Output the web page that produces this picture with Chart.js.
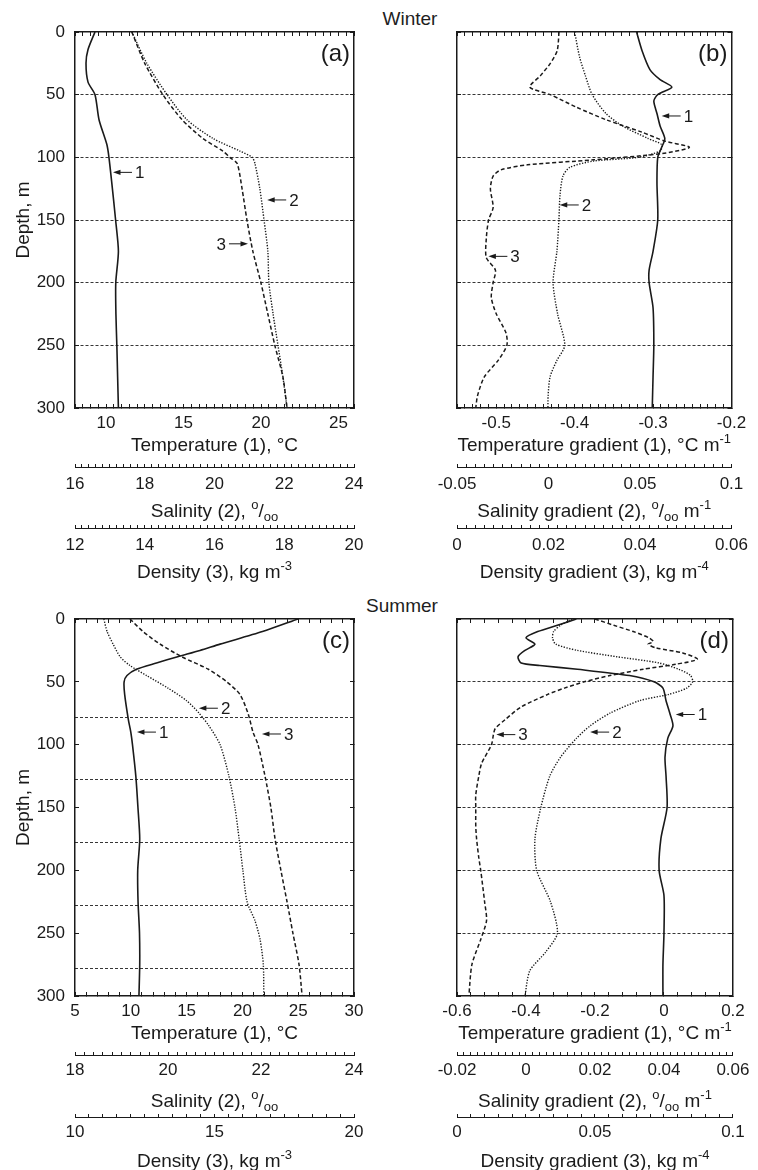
<!DOCTYPE html>
<html>
<head>
<meta charset="utf-8">
<script src="https://cdn.jsdelivr.net/npm/chart.js@4.4.0/dist/chart.umd.min.js"></script>
<style>
  body { margin: 0; background: #fff; width: 758px; height: 1170px; position: relative; overflow: hidden;
         font-family: "Liberation Sans", Arial, Helvetica, sans-serif; color: #1e1e1e; }
  .panel { position: absolute; }
  .season { position: absolute; width: 100px; text-align: center; font-size: 19px; line-height: 22px; }
</style>
</head>
<body>
<div class="season" style="left:360px; top:8px;">Winter</div>
<div class="season" style="left:352px; top:595px;">Summer</div>
<canvas id="pa" class="panel" width="379" height="590" style="left:0; top:0;"></canvas>
<canvas id="pb" class="panel" width="379" height="590" style="left:379px; top:0;"></canvas>
<canvas id="pc" class="panel" width="379" height="580" style="left:0; top:590px;"></canvas>
<canvas id="pd" class="panel" width="379" height="580" style="left:379px; top:590px;"></canvas>
<script>
const FONT = '"Liberation Sans", Arial, Helvetica, sans-serif';
const INK = '#1a1a1a';
const GRID = '#363636';

// ---- winter, profiles (a) ----
const depthA1 = [0, 14, 25, 40, 50, 70, 90, 100, 120, 150, 175, 200, 225, 250, 275, 300];
const tempA = [9.29, 8.84, 8.71, 8.84, 9.29, 9.55, 10.06, 10.19, 10.37, 10.62, 10.8, 10.63, 10.64, 10.7, 10.75, 10.8];
const depthA2 = [0, 25, 50, 70, 85, 95, 100, 105, 125, 150, 175, 200, 225, 250, 275, 300];
const salA = [17.63, 18.06, 18.64, 19.21, 19.96, 20.73, 21.08, 21.16, 21.3, 21.42, 21.53, 21.56, 21.68, 21.82, 21.96, 22.08];
const densA = [13.63, 14.0, 14.52, 15.07, 15.67, 16.24, 16.44, 16.65, 16.79, 16.93, 17.1, 17.33, 17.53, 17.73, 17.96, 18.08];

// ---- winter, gradients (b) ----
const depthB1 = [0, 15, 30, 38, 44, 50, 55, 65, 75, 85, 92, 100, 120, 150, 175, 190, 200, 220, 250, 275, 300];
const tgradB = [-0.321, -0.314, -0.304, -0.291, -0.276, -0.294, -0.299, -0.295, -0.291, -0.285, -0.289, -0.294, -0.295, -0.294, -0.3, -0.305, -0.305, -0.3, -0.299, -0.3, -0.301];
const depthB2 = [0, 20, 35, 50, 65, 75, 85, 90, 95, 100, 103, 108, 115, 130, 150, 175, 200, 225, 250, 262, 275, 290, 300];
const sgradB = [0.0143, 0.017, 0.0202, 0.0239, 0.0314, 0.0405, 0.0545, 0.062, 0.0609, 0.0491, 0.0245, 0.0116, 0.0079, 0.0063, 0.0057, 0.0046, 0.0025, 0.005, 0.0089, 0.0046, 0.0009, -0.0002, -0.0003];
const depthB3 = [0, 15, 25, 35, 44, 50, 60, 70, 80, 87, 92, 97, 102, 106, 110, 115, 125, 140, 150, 165, 180, 190, 200, 212, 225, 240, 250, 262, 275, 290, 300];
const dgradB = [0.0223, 0.0219, 0.0204, 0.0182, 0.0159, 0.0204, 0.0261, 0.0326, 0.0405, 0.0454, 0.0508, 0.0448, 0.0298, 0.0154, 0.0096, 0.0079, 0.0073, 0.0079, 0.0069, 0.0064, 0.0064, 0.0084, 0.0079, 0.0075, 0.0086, 0.0107, 0.0109, 0.009, 0.006, 0.0045, 0.0041];

// ---- summer, profiles (c) ----
const depthC1 = [0, 10, 20, 25, 30, 35, 40, 45, 50, 60, 80, 90, 100, 125, 150, 175, 200, 225, 250, 275, 300];
const tempC = [24.98, 21.8, 18.0, 16.2, 14.2, 12.3, 10.5, 9.66, 9.4, 9.45, 9.78, 10.0, 10.15, 10.45, 10.64, 10.8, 10.62, 10.65, 10.78, 10.8, 10.73];
const depthC2 = [0, 10, 20, 30, 37, 45, 55, 65, 75, 85, 100, 125, 150, 175, 200, 225, 240, 255, 275, 300];
const salC = [18.62, 18.69, 18.82, 18.97, 19.18, 19.54, 20.0, 20.4, 20.67, 20.88, 21.12, 21.31, 21.44, 21.53, 21.61, 21.7, 21.87, 21.98, 22.05, 22.06];
const depthC3 = [0, 10, 20, 30, 40, 50, 60, 75, 90, 100, 125, 150, 175, 200, 225, 250, 275, 300];
const densC = [11.97, 12.44, 13.05, 13.82, 14.78, 15.44, 15.91, 16.2, 16.38, 16.56, 16.81, 17.02, 17.17, 17.38, 17.6, 17.81, 18.03, 18.14];
const gridDepthsC = [78, 128, 178, 228, 278];

// ---- summer, gradients (d) ----
const depthD1 = [0, 5, 10, 15, 20, 25, 30, 35, 37, 40, 45, 50, 55, 65, 75, 85, 95, 110, 125, 150, 175, 200, 220, 250, 275, 300];
const tgradD = [-0.254, -0.309, -0.366, -0.4, -0.374, -0.403, -0.423, -0.414, -0.36, -0.251, -0.1, -0.029, -0.003, 0.006, 0.017, 0.026, 0.011, 0.003, 0.006, 0.009, -0.009, -0.014, 0, 0, -0.003, -0.003];
const depthD2 = [0, 5, 10, 15, 20, 25, 30, 35, 40, 45, 50, 55, 60, 65, 75, 85, 95, 110, 125, 150, 175, 200, 225, 250, 265, 280, 300];
const sgradD = [0.0134, 0.01, 0.008, 0.0077, 0.0086, 0.0149, 0.0263, 0.0386, 0.0443, 0.0477, 0.0483, 0.0466, 0.0414, 0.0329, 0.0243, 0.0186, 0.0146, 0.01, 0.0069, 0.0043, 0.0026, 0.0031, 0.0071, 0.0091, 0.0057, 0.0011, -0.0003];
const depthD3 = [0, 5, 10, 15, 18, 20, 23, 27, 32, 36, 40, 45, 50, 55, 60, 70, 80, 87, 92, 100, 115, 125, 140, 150, 165, 175, 190, 200, 225, 240, 255, 275, 300];
const dgradD = [0.05, 0.0568, 0.0639, 0.0696, 0.0711, 0.0693, 0.0721, 0.0818, 0.0871, 0.0793, 0.0675, 0.0554, 0.0461, 0.0389, 0.0329, 0.0232, 0.0175, 0.0139, 0.0132, 0.0125, 0.0089, 0.0079, 0.0068, 0.0068, 0.0068, 0.0071, 0.0079, 0.0086, 0.01, 0.0107, 0.0086, 0.0054, 0.0043];

// numbered arrows, in units of the first x axis and depth
const arrowsA = [{ label: '1', x: 10.45, depth: 112, dir: 'left' }, { label: '2', x: 20.4, depth: 134, dir: 'left' }, { label: '3', x: 19.16, depth: 169, dir: 'right' }];
const arrowsB = [{ label: '1', x: -0.289, depth: 67, dir: 'left' }, { label: '2', x: -0.419, depth: 138, dir: 'left' }, { label: '3', x: -0.51, depth: 179, dir: 'left' }];
const arrowsC = [{ label: '1', x: 10.55, depth: 90, dir: 'left' }, { label: '2', x: 16.1, depth: 71, dir: 'left' }, { label: '3', x: 21.75, depth: 91.5, dir: 'left' }];
const arrowsD = [{ label: '1', x: 0.034, depth: 76, dir: 'left' }, { label: '2', x: -0.214, depth: 90, dir: 'left' }, { label: '3', x: -0.486, depth: 92, dir: 'left' }];

// axis ranges: min, max, minor step, labelled step
const tempRangeA = [8, 26, 0.5, 5], salRangeA = [16, 24, 0.2, 2], densRangeA = [12, 20, 0.2, 2];
const tgradRangeB = [-0.55, -0.2, 0.01, 0.1], sgradRangeB = [-0.05, 0.1, 0.005, 0.05], dgradRangeB = [0, 0.06, 0.002, 0.02];
const tempRangeC = [5, 30, 1, 5], salRangeC = [18, 24, 0.2, 2], densRangeC = [10, 20, 0.5, 5];
const tgradRangeD = [-0.6, 0.2, 0.04, 0.2], sgradRangeD = [-0.02, 0.06, 0.002, 0.02], dgradRangeD = [0, 0.1, 0.005, 0.05];

const profTitles = [
  [['Temperature (1), \u00B0C', '']],
  [['Salinity (2), ', ''], ['o', 'sup'], ['/', ''], ['oo', 'sub']],
  [['Density (3), kg m', ''], ['-3', 'sup']]
];
const gradTitles = [
  [['Temperature gradient (1), \u00B0C m', ''], ['-1', 'sup']],
  [['Salinity gradient (2), ', ''], ['o', 'sup'], ['/', ''], ['oo', 'sub'], [' m', ''], ['-1', 'sup']],
  [['Density gradient (3), kg m', ''], ['-4', 'sup']]
];

Chart.defaults.font.family = FONT;
Chart.defaults.color = INK;

function isMultiple(v, m) {
  return Math.abs(v / m - Math.round(v / m)) < 1e-6;
}

function fmt(v) {
  return String(parseFloat(v.toFixed(4)));
}

function line(depths, values, axis, dash, width) {
  return {
    data: depths.map((d, i) => ({ x: values[i], y: d })),
    xAxisID: axis, yAxisID: 'y',
    borderColor: INK, borderWidth: width, borderDash: dash,
    pointRadius: 0, tension: 0.25, fill: false
  };
}

function hAxis(r, o) {
  return {
    type: 'linear', position: o.pos || 'bottom', weight: o.weight || 0,
    min: r[0], max: r[1],
    grid: { drawOnChartArea: false, tickLength: o.tick, tickColor: INK, tickWidth: 1 },
    border: { display: true, color: INK, width: o.bw },
    ticks: {
      display: !o.hide, stepSize: r[2], autoSkip: false, maxRotation: 0, minRotation: 0,
      padding: o.pad || 0, font: { size: 17 }, color: INK,
      callback: v => isMultiple(v, r[3]) ? fmt(v) : ''
    },
    afterFit: s => { s.height = o.h; }
  };
}

function vAxis(o) {
  return {
    type: 'linear', reverse: true, min: 0, max: 300, position: o.pos || 'left', weight: o.weight || 0,
    grid: {
      drawOnChartArea: !!o.grid, drawTicks: o.tick !== 0, tickLength: o.tick, tickColor: INK, lineWidth: 1,
      color: c => (c.tick && (c.tick.value <= 0 || c.tick.value >= 300)) ? 'rgba(0,0,0,0)' : GRID
    },
    border: { display: o.bw > 0, color: INK, width: o.bw || 1, dash: [3, 2] },
    ticks: { display: !!o.labels, stepSize: 50, padding: 14, font: { size: 17 }, color: INK },
    title: { display: !!o.labels, text: 'Depth, m', font: { size: 19 }, color: INK, padding: { top: 12, bottom: 0 } },
    afterFit: s => { s.width = o.w; }
  };
}

function drawRich(c, parts, cx, cy) {
  const big = '19px ' + FONT, small = '13px ' + FONT;
  let w = 0;
  parts.forEach(p => { c.font = p[1] ? small : big; w += c.measureText(p[0]).width; });
  let x = cx - w / 2;
  const base = cy + 7;
  c.textAlign = 'left';
  c.textBaseline = 'alphabetic';
  parts.forEach(p => {
    c.font = p[1] ? small : big;
    const dy = p[1] === 'sup' ? -8 : p[1] === 'sub' ? 4 : 0;
    c.fillText(p[0], x, base + dy);
    x += c.measureText(p[0]).width;
  });
}

function drawArrow(c, x, y, dir, label) {
  const s = dir === 'left' ? 1 : -1;
  c.lineWidth = 1;
  c.beginPath();
  c.moveTo(x + s * 6, y);
  c.lineTo(x + s * 19, y);
  c.stroke();
  c.beginPath();
  c.moveTo(x, y);
  c.lineTo(x + s * 7.5, y - 2.6);
  c.lineTo(x + s * 7.5, y + 2.6);
  c.closePath();
  c.fill();
  c.font = '17px ' + FONT;
  c.textBaseline = 'middle';
  c.textAlign = s > 0 ? 'left' : 'right';
  c.fillText(label, x + s * 22, y + 1);
}

function overlay(cfg) {
  return {
    id: 'overlay',
    afterDraw(chart) {
      const c = chart.ctx, area = chart.chartArea;
      c.save();
      c.fillStyle = INK;
      c.strokeStyle = INK;
      ['x', 'xs', 'xd'].forEach((id, i) => {
        const s = chart.scales[id];
        drawRich(c, cfg.titles[i], (s.left + s.right) / 2, s.top + cfg.titleDy[i]);
      });
      c.font = '24px ' + FONT;
      c.textAlign = 'right';
      c.textBaseline = 'middle';
      c.fillText(cfg.letter, area.right - 4, area.top + 22);
      cfg.arrows.forEach(a => {
        drawArrow(c, chart.scales.x.getPixelForValue(a.x), chart.scales.y.getPixelForValue(a.depth), a.dir, a.label);
      });
      c.restore();
    }
  };
}

function makePanel(id, cfg) {
  const scales = {
    x: hAxis(cfg.ranges[0], { tick: -4, bw: 1.5, pad: 9, h: cfg.boxes[0], weight: 0 }),
    xs: hAxis(cfg.ranges[1], { tick: -3, bw: 1, pad: cfg.secPad, h: cfg.boxes[1], weight: 1 }),
    xd: hAxis(cfg.ranges[2], { tick: -3, bw: 1, pad: cfg.secPad, h: cfg.boxes[2], weight: 2 }),
    xt: hAxis(cfg.ranges[0], { pos: 'top', hide: true, tick: -4, bw: 1.5, h: 0 }),
    y: vAxis({ labels: cfg.depthLabels, grid: !cfg.gridDepths, tick: -4, bw: 1.5, w: cfg.left }),
    yr: vAxis({ pos: 'right', tick: -4, bw: 1.5, w: 0 })
  };
  if (cfg.gridDepths) {
    scales.yg = vAxis({ grid: true, tick: 0, bw: 0, w: 0, weight: 1 });
    scales.yg.afterBuildTicks = s => { s.ticks = cfg.gridDepths.map(v => ({ value: v })); };
  }
  new Chart(document.getElementById(id), {
    type: 'line',
    data: {
      datasets: [
        line(cfg.series[0][0], cfg.series[0][1], 'x', [], 1.6),
        line(cfg.series[1][0], cfg.series[1][1], 'xs', [1.3, 1.5], 1.4),
        line(cfg.series[2][0], cfg.series[2][1], 'xd', [4, 2.5], 1.5)
      ]
    },
    options: {
      responsive: false, animation: false, events: [], indexAxis: 'y',
      layout: { padding: { top: cfg.top, left: 0, right: cfg.right, bottom: 0 } },
      plugins: { legend: { display: false }, tooltip: { enabled: false } },
      scales: scales
    },
    plugins: [overlay(cfg)]
  });
}

makePanel('pa', {
  series: [[depthA1, tempA], [depthA2, salA], [depthA2, densA]],
  ranges: [tempRangeA, salRangeA, densRangeA],
  titles: profTitles, titleDy: [36, 43, 43], letter: '(a)', arrows: arrowsA,
  depthLabels: true, left: 75, right: 25, top: 32, boxes: [59, 61, 62], secPad: 10
});
makePanel('pb', {
  series: [[depthB1, tgradB], [depthB2, sgradB], [depthB3, dgradB]],
  ranges: [tgradRangeB, sgradRangeB, dgradRangeB],
  titles: gradTitles, titleDy: [36, 43, 43], letter: '(b)', arrows: arrowsB,
  depthLabels: false, left: 78, right: 21, top: 32, boxes: [59, 61, 62], secPad: 10
});
makePanel('pc', {
  series: [[depthC1, tempC], [depthC2, salC], [depthC3, densC]],
  ranges: [tempRangeC, salRangeC, densRangeC],
  titles: profTitles, titleDy: [35.5, 44.5, 42.5], letter: '(c)', arrows: arrowsC,
  depthLabels: true, left: 75, right: 25, top: 29, boxes: [59, 62, 53], secPad: 8.5,
  gridDepths: gridDepthsC
});
makePanel('pd', {
  series: [[depthD1, tgradD], [depthD2, sgradD], [depthD3, dgradD]],
  ranges: [tgradRangeD, sgradRangeD, dgradRangeD],
  titles: gradTitles, titleDy: [35.5, 44.5, 42.5], letter: '(d)', arrows: arrowsD,
  depthLabels: false, left: 78, right: 21, top: 29, boxes: [59, 62, 53], secPad: 8.5
});
</script>
</body>
</html>
